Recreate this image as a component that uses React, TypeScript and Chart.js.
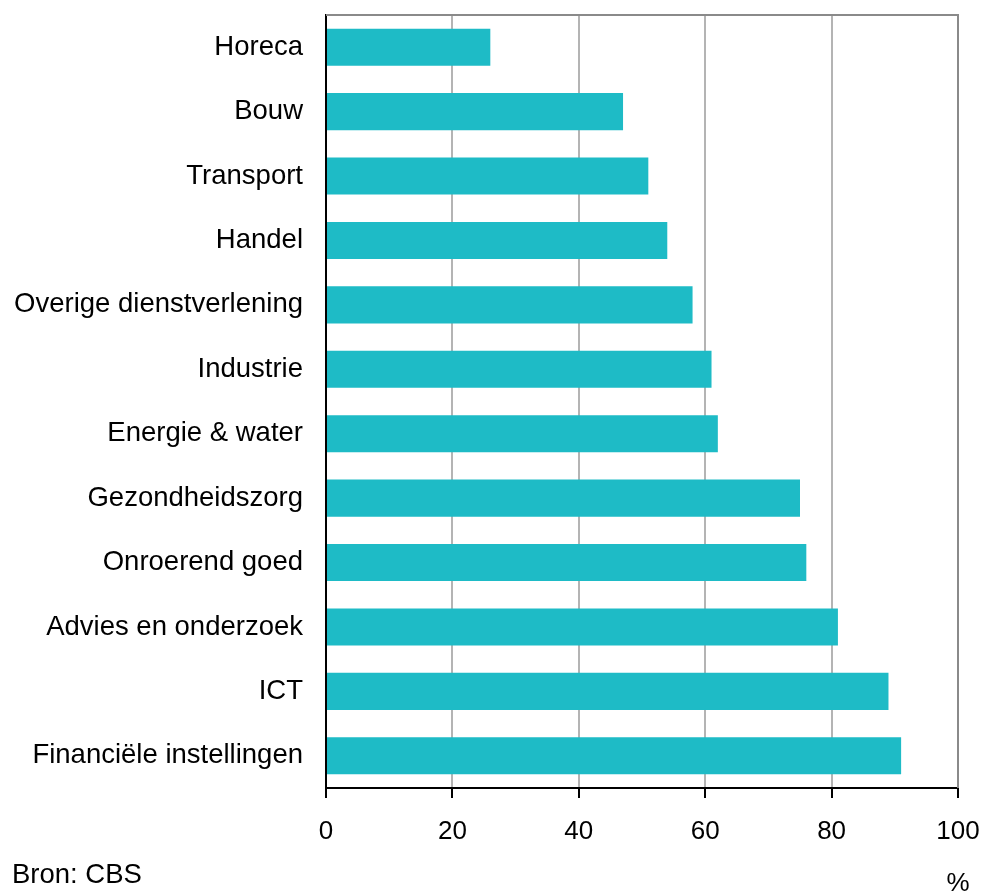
import React, { useEffect, useRef } from "react";
import { Chart, registerables } from "chart.js";

Chart.register(...registerables);

const categories = [
  "Horeca",
  "Bouw",
  "Transport",
  "Handel",
  "Overige dienstverlening",
  "Industrie",
  "Energie & water",
  "Gezondheidszorg",
  "Onroerend goed",
  "Advies en onderzoek",
  "ICT",
  "Financiële instellingen",
];
const values = [26, 47, 51, 54, 58, 61, 62, 75, 76, 81, 89, 91];
const xTicks = [0, 20, 40, 60, 80, 100];
const sourceText = "Bron: CBS";
const unitText = "%";

const FONT = "'Liberation Sans', Arial, sans-serif";

export default function App() {
  const ref = useRef<HTMLCanvasElement | null>(null);

  useEffect(() => {
    document.body.style.margin = "0";
    const canvas = ref.current;
    if (!canvas) return;

    const framePlugin = {
      id: "frameAndTexts",
      afterDraw(chart: any) {
        const { ctx, chartArea } = chart;
        ctx.save();
        ctx.strokeStyle = "#8a8a8a";
        ctx.lineWidth = 2;
        ctx.beginPath();
        ctx.moveTo(chartArea.left, chartArea.top);
        ctx.lineTo(chartArea.right, chartArea.top);
        ctx.lineTo(chartArea.right, chartArea.bottom);
        ctx.stroke();
        ctx.fillStyle = "#000";
        ctx.font = `27.5px ${FONT}`;
        ctx.textBaseline = "middle";
        ctx.textAlign = "left";
        ctx.fillText(sourceText, 12, 875);
        ctx.textAlign = "center";
        ctx.font = `26px ${FONT}`;
        ctx.fillText(unitText, chartArea.right, 884);
        ctx.restore();
      },
    };

    const chart = new Chart(canvas, {
      type: "bar",
      data: {
        labels: categories,
        datasets: [
          {
            data: values,
            backgroundColor: "#1EBBC6",
            borderWidth: 0,
            categoryPercentage: 1,
            barPercentage: 0.575,
          },
        ],
      },
      options: {
        indexAxis: "y",
        animation: false,
        responsive: true,
        maintainAspectRatio: false,
        layout: { padding: { top: 15, right: 24, left: 0, bottom: 0 } },
        plugins: {
          legend: { display: false },
          tooltip: { enabled: false },
        },
        scales: {
          x: {
            type: "linear",
            min: 0,
            max: 100,
            afterBuildTicks(scale: any) {
              scale.ticks = xTicks.map((v) => ({ value: v }));
            },
            afterFit(scale: any) {
              scale.height = 106;
              scale.paddingLeft = 0;
              scale.paddingRight = 0;
            },
            grid: {
              color: "#b4b4b4",
              lineWidth: 2,
              tickColor: "#000",
              tickLength: 10,
              tickWidth: 2,
            },
            border: { display: true, color: "#000", width: 2 },
            ticks: {
              color: "#000",
              font: { family: FONT, size: 26 },
              padding: 18,
              maxRotation: 0,
            },
          },
          y: {
            afterFit(scale: any) {
              scale.width = 326;
              scale.paddingTop = 0;
              scale.paddingBottom = 0;
            },
            grid: { display: false, drawTicks: false },
            border: { display: true, color: "#000", width: 2 },
            ticks: {
              color: "#000",
              font: { family: FONT, size: 27.5 },
              padding: 23,
              autoSkip: false,
            },
          },
        },
      },
      plugins: [framePlugin],
    } as any);

    return () => chart.destroy();
  }, []);

  return (
    <div style={{ width: 982, height: 894, position: "relative" }}>
      <canvas ref={ref} />
    </div>
  );
}
